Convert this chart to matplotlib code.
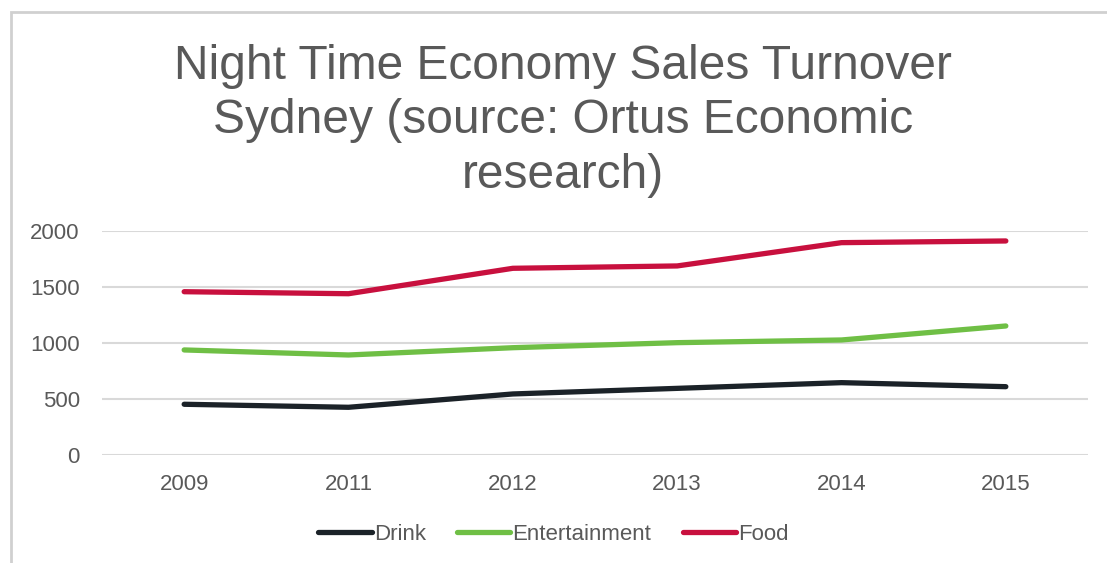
import matplotlib
matplotlib.use("Agg")
import matplotlib.pyplot as plt
from matplotlib.patches import Rectangle

years = ["2009", "2011", "2012", "2013", "2014", "2015"]
drink = [453, 426, 545, 595, 646, 610]
entertainment = [938, 893, 958, 1003, 1027, 1152]
food = [1458, 1440, 1667, 1688, 1896, 1911]

series_names = ["Drink", "Entertainment", "Food"]
series_colors = ["#1b2228", "#6fbf45", "#c8103e"]
y_ticks = [0, 500, 1000, 1500, 2000]

title = "Night Time Economy Sales Turnover\nSydney (source: Ortus Economic\nresearch)"

plt.rcParams["font.family"] = ["Liberation Sans", "DejaVu Sans"]
text_color = "#595959"
grid_color = "#d9d9d9"

fig = plt.figure(figsize=(11.07, 5.63), dpi=100)
fig.patch.set_facecolor("white")

# light frame around the chart area
fig.patches.append(Rectangle((11 / 1107, -0.05), 1.1, 1 - 12 / 563 + 0.05,
                             transform=fig.transFigure, fill=False,
                             edgecolor="#d0d0d0", linewidth=2))

ax = fig.add_axes([102 / 1107, 1 - 455 / 563, (1088 - 102) / 1107, (455 - 231) / 563])
x = list(range(len(years)))
for vals, name, col in zip([drink, entertainment, food], series_names, series_colors):
    ax.plot(x, vals, color=col, linewidth=3.8, solid_capstyle="round",
            solid_joinstyle="round", label=name, clip_on=False, zorder=3)

ax.set_xlim(-0.5, len(years) - 0.5)
ax.set_ylim(0, 2000)
ax.set_yticks(y_ticks)
ax.set_yticklabels([str(v) for v in y_ticks])
ax.set_xticks(x)
ax.set_xticklabels(years)
ax.tick_params(axis="both", length=0, labelsize=16, colors=text_color)
ax.tick_params(axis="y", pad=16)
ax.tick_params(axis="x", pad=14)
ax.grid(axis="y", color=grid_color, linewidth=1.5, zorder=0)
for s in ax.spines.values():
    s.set_visible(False)

fig.text(563 / 1107, 1 - 44 / 563, title, ha="center", va="top",
         fontsize=34.5, color=text_color, linespacing=1.27)

handles, labels = ax.get_legend_handles_labels()
fig.legend(handles, labels, loc="center", bbox_to_anchor=(0.5, 1 - 534 / 563),
           ncol=3, frameon=False, fontsize=16, handlelength=2.4,
           handletextpad=0.1, columnspacing=1.4, labelcolor=text_color)

fig.savefig("out.png", dpi=100, facecolor="white")
